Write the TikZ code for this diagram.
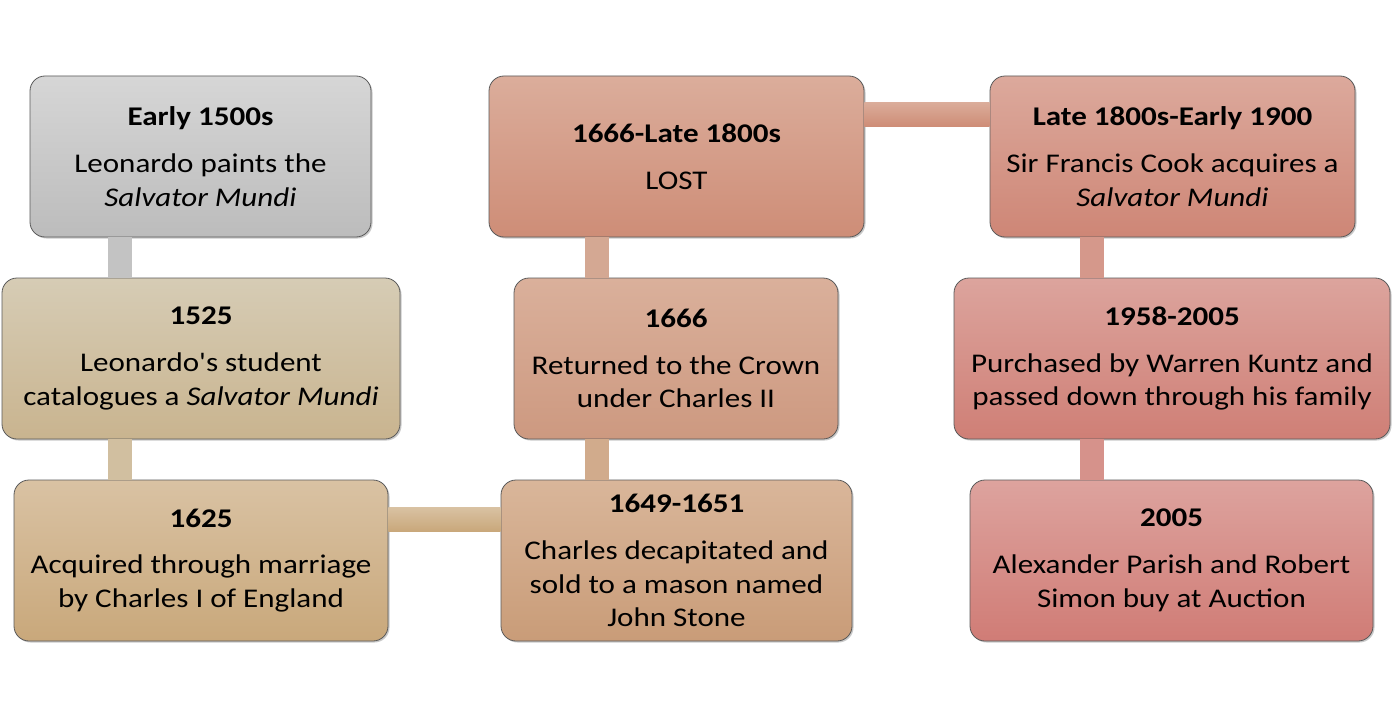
\documentclass[tikz,border=0pt]{standalone}
\usepackage{fontspec}
\setmainfont{Carlito}[FakeStretch=1.15, Ligatures=TeXOff]
\usetikzlibrary{shadows}
\definecolor{g1t}{HTML}{D6D6D6}\definecolor{g1b}{HTML}{BCBCBC}
\definecolor{g2t}{HTML}{D6CCB5}\definecolor{g2b}{HTML}{C9B48F}
\definecolor{g3t}{HTML}{D9C2A3}\definecolor{g3b}{HTML}{C9A87B}
\definecolor{g4t}{HTML}{D9B69A}\definecolor{g4b}{HTML}{C99C78}
\definecolor{g5t}{HTML}{DAB09B}\definecolor{g5b}{HTML}{CD9980}
\definecolor{g6t}{HTML}{DBAD9B}\definecolor{g6b}{HTML}{CE8D77}
\definecolor{g7t}{HTML}{DCA99C}\definecolor{g7b}{HTML}{CE8676}
\definecolor{g8t}{HTML}{DCA49D}\definecolor{g8b}{HTML}{CF7F76}
\definecolor{g9t}{HTML}{DDA39E}\definecolor{g9b}{HTML}{D07C76}
\definecolor{edge}{HTML}{5A5A5A}
\tikzset{
  evbox/.style={draw=edge, line width=0.8pt, rounded corners=15pt, align=center,
    minimum height=161pt, inner sep=0pt,
    font=\fontsize{27}{33.8}\selectfont,
    drop shadow={shadow xshift=1.5pt, shadow yshift=-1.5pt, opacity=0.35, fill=black!60}},
  vbar/.style={line width=24pt},
}
\newcommand{\ttl}[1]{\textbf{#1}\\[13pt]}
\begin{document}
\begin{tikzpicture}[x=1pt,y=-1pt]
\useasboundingbox[fill=white] (0,0) rectangle (1400,717);
% boxes
\node[evbox, minimum width=341pt, top color=g1t, bottom color=g1b] (b1) at (200.5,156.5)
  {\ttl{Early 1500s}Leonardo paints the\\\textit{Salvator Mundi}};
\node[evbox, minimum width=398pt, top color=g2t, bottom color=g2b] (b2) at (201,358.5)
  {\ttl{1525}Leonardo's student\\catalogues a \textit{Salvator Mundi}};
\node[evbox, minimum width=374pt, top color=g3t, bottom color=g3b] (b3) at (201,560.5)
  {\ttl{1625}Acquired through marriage\\by Charles I of England};
\node[evbox, minimum width=351pt, top color=g4t, bottom color=g4b] (b4) at (676.5,560.5)
  {\ttl{1649-1651}Charles decapitated and\\sold to a mason named\\John Stone};
\node[evbox, minimum width=324pt, top color=g5t, bottom color=g5b] (b5) at (676,358.5)
  {\ttl{1666}Returned to the Crown\\under Charles II};
\node[evbox, minimum width=375pt, top color=g6t, bottom color=g6b] (b6) at (676.5,156.5)
  {\ttl{1666-Late 1800s}LOST};
\node[evbox, minimum width=365pt, top color=g7t, bottom color=g7b] (b7) at (1172.5,156.5)
  {\ttl{Late 1800s-Early 1900}Sir Francis Cook acquires a\\\textit{Salvator Mundi}};
\node[evbox, minimum width=436pt, top color=g8t, bottom color=g8b] (b8) at (1172,358.5)
  {\ttl{1958-2005}Purchased by Warren Kuntz and\\passed down through his family};
\node[evbox, minimum width=403pt, top color=g9t, bottom color=g9b] (b9) at (1171.5,560.5)
  {\ttl{2005}Alexander Parish and Robert\\Simon buy at Auction};
% connectors
\draw[vbar, color=g1b!90!white] ([xshift=-80.5pt]b1.south) -- ([xshift=-80.5pt]b1.south |- b2.north);
\draw[vbar, color=g2b!85!white] ([xshift=-81pt]b2.south) -- ([xshift=-81pt]b2.south |- b3.north);
\path[top color=g3t, bottom color=g3b] ([yshift=53.5pt]b3.east) rectangle ([yshift=29.5pt]b4.west);
\draw[vbar, color=g4b!85!white] ([xshift=-79.5pt]b4.north) -- ([xshift=-79.5pt]b4.north |- b5.south);
\draw[vbar, color=g5b!85!white] ([xshift=-79pt]b5.north) -- ([xshift=-79pt]b5.north |- b6.south);
\path[top color=g6t, bottom color=g6b] ([yshift=54.5pt]b6.east) rectangle ([yshift=30.5pt]b7.west);
\draw[vbar, color=g7b!85!white] ([xshift=-80.5pt]b7.south) -- ([xshift=-80.5pt]b7.south |- b8.north);
\draw[vbar, color=g8b!85!white] ([xshift=-80pt]b8.south) -- ([xshift=-80pt]b8.south |- b9.north);
\end{tikzpicture}
\end{document}
